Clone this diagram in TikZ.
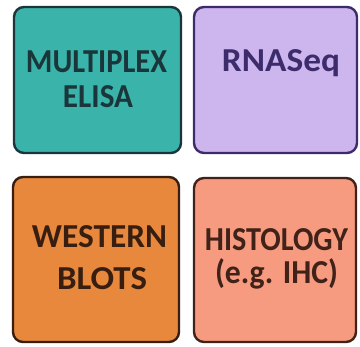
\documentclass[tikz,border=0pt]{standalone}
\usepackage{fontspec}
\setmainfont{Carlito}
% set a line of text, stretched horizontally to a given width (in pt)
\newsavebox\linebox
\newcommand\fitw[2]{%
  \sbox\linebox{#2}%
  \pgfmathsetmacro\stretchx{#1/\the\wd\linebox}%
  \scalebox{\stretchx}[1]{\usebox\linebox}}
\begin{document}
\begin{tikzpicture}[x=1pt,y=-1pt,
  tile/.style={rounded corners=10pt,line width=2.4pt,inner sep=0pt,outer sep=0pt},
  caption/.style={font=\bfseries\fontsize{33.5}{36}\selectfont,inner sep=0pt,anchor=base}]
\useasboundingbox[fill=white] (0,0) rectangle (360,347);
\definecolor{tealfill}{RGB}{58,180,170}
\definecolor{tealline}{RGB}{26,54,58}
\definecolor{lilacfill}{RGB}{205,181,238}
\definecolor{lilacline}{RGB}{60,44,108}
\definecolor{orangefill}{RGB}{232,136,60}
\definecolor{orangeline}{RGB}{56,30,16}
\definecolor{salmonfill}{RGB}{246,154,128}
\definecolor{salmonline}{RGB}{64,34,24}
% tiles
\path[tile,fill=tealfill,draw=tealline] (14,7) rectangle (181,153);
\path[tile,fill=lilacfill,draw=lilacline] (194,7) rectangle (357,153);
\path[tile,fill=orangefill,draw=orangeline] (13,177) rectangle (179,342);
\path[tile,fill=salmonfill,draw=salmonline] (194,178) rectangle (356,342);
% captions, one node per line, placed on their baselines
\node[caption,text=tealline] (multiplex) at (96.5,73) {\fitw{141}{MULTIPLEX}};
\node[caption,text=tealline] (elisa) at (98,108) {\fitw{70}{ELISA}};
\node[caption,text=lilacline] (rnaseq) at (281,72) {\fitw{118}{RNASeq}};
\node[caption,text=orangeline] (western) at (99.5,248) {\fitw{135}{WESTERN}};
\node[caption,text=orangeline] (blots) at (102,290) {\fitw{90}{BLOTS}};
\node[caption,text=salmonline] (histology) at (276.5,251) {\fitw{143}{HISTOLOGY}};
\node[caption,text=salmonline] (ihc) at (276.5,284) {\fitw{123}{(e.g. IHC)}};
\end{tikzpicture}
\end{document}
